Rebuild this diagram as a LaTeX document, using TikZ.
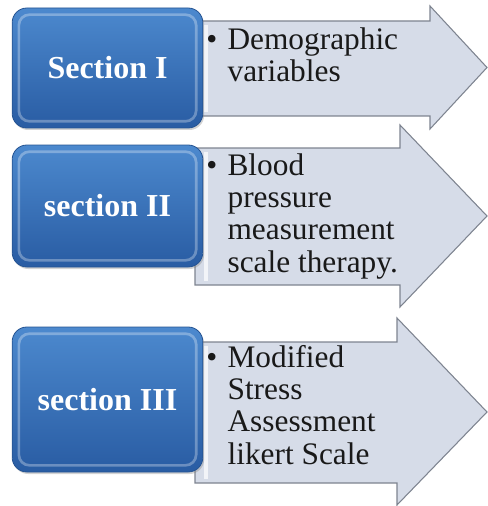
\documentclass[tikz,border=0pt]{standalone}
\usepackage{fontspec}
\setmainfont{Liberation Serif}
\usetikzlibrary{positioning,shadows}

\definecolor{boxtop}{RGB}{76,137,206}
\definecolor{boxbot}{RGB}{41,92,163}
\definecolor{boxedge}{RGB}{38,84,146}
\definecolor{arrowfill}{RGB}{214,220,232}
\definecolor{arrowedge}{RGB}{126,132,144}

\tikzset{
  secbox/.style={rounded corners=11pt, minimum width=143pt, top color=boxtop,
    bottom color=boxbot, draw=boxedge, line width=.6pt, text=white,
    font=\fontsize{24}{26}\selectfont\bfseries,
    drop shadow={shadow xshift=1pt, shadow yshift=-1.5pt, opacity=.35},
    path picture={\draw[white, opacity=.3, line width=2pt, rounded corners=8pt]
      ([shift={(5pt,-5pt)}]path picture bounding box.north west) rectangle
      ([shift={(-5pt,5pt)}]path picture bounding box.south east);}},
  arrowbody/.style={fill=arrowfill, draw=arrowedge, line width=.8pt, line join=miter},
  itemtext/.style={anchor=base west, inner sep=0pt, align=left, text=black!90,
    font=\fontsize{23.5}{24.2}\selectfont},
}
\newcommand\bul{\makebox[16pt][l]{\textbullet}}
\newcommand\ind{\hspace*{16pt}}

\begin{document}
\begin{tikzpicture}[x=0.75pt,y=-0.75pt]
\useasboundingbox (0,0) rectangle (487,506);

% arrows
\draw[arrowbody] (195,21) -- (430,21) -- (430,6) -- (487,67.5) -- (430,129) -- (430,116) -- (195,116) -- cycle;
\draw[arrowbody] (195,148) -- (400,148) -- (400,125) -- (487,216) -- (400,307) -- (400,285) -- (195,285) -- cycle;
\draw[arrowbody] (195,342) -- (397,342) -- (397,318) -- (487,412) -- (397,505) -- (397,483) -- (195,483) -- cycle;

% light edge down the left of each arrow
\draw[white, opacity=.7, line width=3pt] (206,25) -- (206,112);
\draw[white, opacity=.7, line width=3pt] (206,152) -- (206,281);
\draw[white, opacity=.7, line width=3pt] (206,346) -- (206,479);

% sections
\node[secbox, minimum height=90pt] (s1) at (107.5,68) {Section I};
\node[secbox, minimum height=91.5pt] (s2) at (107.5,206) {section II};
\node[secbox, minimum height=108.75pt] (s3) at (107.5,399.5) {section III};

% items (base = last line)
\node[itemtext] (t1) at (206,82) {\bul Demographic\\\ind variables};
\node[itemtext] (t2) at (206,272) {\bul Blood\\\ind pressure\\\ind measurement\\\ind scale therapy.};
\node[itemtext] (t3) at (206,464) {\bul Modified\\\ind Stress\\\ind Assessment\\\ind likert Scale};
\end{tikzpicture}
\end{document}
